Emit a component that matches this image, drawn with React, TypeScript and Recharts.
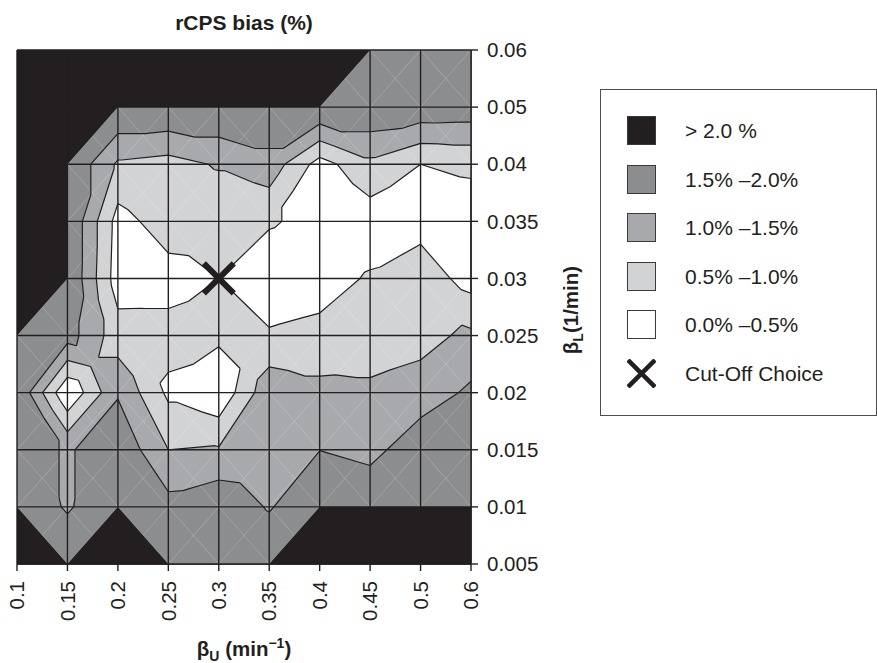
import React from 'react'
import { ScatterChart, Scatter, XAxis, YAxis, Legend } from 'recharts'

const font = '"Liberation Sans", Arial, Helvetica, sans-serif'
const ink = '#231f20'

// grid categories (the x axis has no 0.55 column)
const xLabels = ['0.1', '0.15', '0.2', '0.25', '0.3', '0.35', '0.4', '0.45', '0.5', '0.6']
const yLabels = ['0.005', '0.01', '0.015', '0.02', '0.025', '0.03', '0.035', '0.04', '0.05', '0.06']

// rCPS bias (%) per node, one row per beta_L from 0.06 (top) down to 0.005.
// 2.5 = anything above 2.0 %, the scale is cut at 2.0
const biasRows = [
  [2.5, 2.5, 2.5, 2.5, 2.5, 2.5, 2.5, 2.5, 1.8, 1.8], // 0.06
  [2.5, 2.5, 2.5, 2.5, 2.5, 2.5, 2.5, 1.97, 1.87, 1.83], // 0.05
  [2.5, 2.5, 0.92, 0.81, 1.05, 1.31, 0.3, 0.88, 0.5, 0.58], // 0.04
  [2.5, 2.5, 0.31, 0.75, 0.6, 0.55, 0.35, 0.22, 0.3, 0.26], // 0.035
  [2.5, 2.5, 0.25, 0.3, 0.5, 0.2, 0.3, 0.55, 0.8, 0.29], // 0.03
  [2.5, 1.73, 0.72, 0.68, 0.6, 0.55, 0.63, 0.72, 0.85, 1.1], // 0.025
  [1.98, 0.05, 1.45, 0.4, 0.09, 1.37, 1.15, 1.1, 1.2, 1.6], // 0.02
  [1.85, 1.43, 1.9, 1.0, 1.05, 1.4, 1.49, 1.31, 1.88, 1.9], // 0.015
  [2.5, 1.43, 2.5, 1.68, 1.9, 1.45, 2.5, 2.5, 2.5, 2.5], // 0.01
  [2.5, 2.5, 2.5, 2.5, 1.8, 2.5, 2.5, 2.5, 2.5, 2.5], // 0.005
]

const scaleMax = 2.0
const bandLevels = [0.5, 1.0, 1.5, 2.0]
const bandColors = ['#d1d3d4', '#a7a9ac', '#8c8d8f', ink]

const cutOff = { x: '0.3', y: '0.03' }

const legendItems = [
  { label: '> 2.0 %', color: ink },
  { label: '1.5% \u20132.0%', color: '#8c8d8f' },
  { label: '1.0% \u20131.5%', color: '#a7a9ac' },
  { label: '0.5% \u20131.0%', color: '#d1d3d4' },
  { label: '0.0% \u20130.5%', color: '#ffffff' },
]

type Node = { x: number; y: number; z: number }
type Pt = { x: number; y: number }
type Layer = { color: string; width?: number; closed: boolean; shapes: Pt[][] }

const nx = xLabels.length
const ny = yLabels.length
const zAt = (i: number, j: number) => Math.min(biasRows[ny - 1 - j][i], scaleMax)

// centre of each cell: mean of the two middle corner values
function centre(a: number, b: number, c: number, d: number) {
  const s = [a, b, c, d].sort((p, q) => p - q)
  return (s[1] + s[2]) / 2
}

const triangles: Node[][] = []
const diagonals: Pt[][] = []
for (let i = 0; i < nx - 1; i++) {
  for (let j = 0; j < ny - 1; j++) {
    const p00 = { x: i, y: j, z: zAt(i, j) }
    const p10 = { x: i + 1, y: j, z: zAt(i + 1, j) }
    const p11 = { x: i + 1, y: j + 1, z: zAt(i + 1, j + 1) }
    const p01 = { x: i, y: j + 1, z: zAt(i, j + 1) }
    const c = { x: i + 0.5, y: j + 0.5, z: centre(p00.z, p10.z, p11.z, p01.z) }
    triangles.push([p00, p10, c], [p10, p11, c], [p11, p01, c], [p01, p00, c])
    diagonals.push([p00, p11], [p10, p01])
  }
}

function clipAbove(tri: Node[], t: number): Pt[] {
  const out: Pt[] = []
  tri.forEach((a, k) => {
    const b = tri[(k + 1) % tri.length]
    const ain = a.z >= t
    if (ain) out.push({ x: a.x, y: a.y })
    if (ain !== b.z >= t) {
      const f = (t - a.z) / (b.z - a.z)
      out.push({ x: a.x + f * (b.x - a.x), y: a.y + f * (b.y - a.y) })
    }
  })
  return out
}

function area(p: Pt[]) {
  let s = 0
  p.forEach((a, k) => {
    const b = p[(k + 1) % p.length]
    s += a.x * b.y - b.x * a.y
  })
  return s / 2
}

function crossing(tri: Node[], t: number): Pt[] | null {
  const pts: Pt[] = []
  tri.forEach((a, k) => {
    const b = tri[(k + 1) % 3]
    if ((a.z >= t) !== (b.z >= t)) {
      const f = (t - a.z) / (b.z - a.z)
      pts.push({ x: a.x + f * (b.x - a.x), y: a.y + f * (b.y - a.y) })
    }
  })
  if (pts.length !== 2) return null
  if (Math.abs(pts[0].x - pts[1].x) + Math.abs(pts[0].y - pts[1].y) < 1e-6) return null
  return pts
}

const fillLayer = (level: number, color: string): Layer => ({
  color,
  closed: true,
  shapes: triangles.map((t) => clipAbove(t, level)).filter((p) => p.length >= 3 && Math.abs(area(p)) > 1e-9),
})

const contourSegs: Pt[][] = []
bandLevels.slice(0, 3).forEach((lv) => {
  triangles.forEach((t) => {
    const s = crossing(t, lv)
    if (s) contourSegs.push(s)
  })
})

const gridLines: Pt[][] = []
for (let i = 0; i < nx; i++) gridLines.push([{ x: i, y: 0 }, { x: i, y: ny - 1 }])
for (let j = 0; j < ny; j++) gridLines.push([{ x: 0, y: j }, { x: nx - 1, y: j }])

const layers: Layer[] = [
  fillLayer(bandLevels[0], bandColors[0]),
  fillLayer(bandLevels[1], bandColors[1]),
  fillLayer(bandLevels[2], bandColors[2]),
  { color: 'rgba(255,255,255,0.28)', width: 0.7, closed: false, shapes: diagonals },
  fillLayer(bandLevels[3], bandColors[3]),
  { color: ink, width: 1.2, closed: false, shapes: contourSegs },
  { color: ink, width: 1.4, closed: false, shapes: gridLines },
]

const meshPoints = layers.flatMap((l) => l.shapes.flat())
const cutOffPoints = [{ x: xLabels.indexOf(cutOff.x), y: yLabels.indexOf(cutOff.y) }]

// receives the scaled points of meshPoints, in order, from the Scatter line
function MeshPaths(props: any) {
  const pts: Pt[] = props.points ?? []
  let k = 0
  return (
    <g>
      {layers.map((layer, li) => {
        let d = ''
        layer.shapes.forEach((shape) => {
          shape.forEach((_, idx) => {
            const p = pts[k++]
            if (!p) return
            d += `${idx === 0 ? 'M' : 'L'}${p.x.toFixed(2)},${p.y.toFixed(2)}`
          })
          if (layer.closed) d += 'Z'
        })
        return (
          <path
            key={li}
            d={d}
            fill={layer.closed ? layer.color : 'none'}
            stroke={layer.closed ? 'none' : layer.color}
            strokeWidth={layer.width}
          />
        )
      })}
    </g>
  )
}

function CutOffMark(props: any) {
  const { cx, cy } = props
  const r = 15
  return (
    <g stroke={ink} strokeWidth={6}>
      <line x1={cx - r} y1={cy - r} x2={cx + r} y2={cy + r} />
      <line x1={cx - r} y1={cy + r} x2={cx + r} y2={cy - r} />
    </g>
  )
}

function XTick(props: any) {
  const { x, y, payload } = props
  const ty = y + 8
  return (
    <text
      x={x}
      y={ty}
      transform={`rotate(-90, ${x}, ${ty})`}
      textAnchor="end"
      dy="0.35em"
      fill={ink}
      fontSize={20.5}
      fontFamily={font}
    >
      {xLabels[payload.value]}
    </text>
  )
}

function XTitle(props: any) {
  const vb = props.viewBox
  const cx = vb.x + vb.width / 2
  const cy = vb.y + 92
  return (
    <text x={cx} y={cy} textAnchor="middle" fill={ink} fontSize={20.5} fontWeight="bold" fontFamily={font}>
      β<tspan dy={5} fontSize={14}>U</tspan>
      <tspan dy={-5}> (min</tspan>
      <tspan dy={-8} fontSize={14}>−1</tspan>
      <tspan dy={8}>)</tspan>
    </text>
  )
}

function YTitle(props: any) {
  const vb = props.viewBox
  const cx = vb.x + 107
  const cy = vb.y + vb.height / 2 + 3
  return (
    <text
      x={cx}
      y={cy}
      transform={`rotate(-90, ${cx}, ${cy})`}
      textAnchor="middle"
      fill={ink}
      fontSize={20.5}
      fontWeight="bold"
      fontFamily={font}
    >
      β<tspan dy={5} fontSize={14}>L</tspan>
      <tspan dy={-5}>(1/min)</tspan>
    </text>
  )
}

function LegendBox() {
  return (
    <div
      style={{
        position: 'relative',
        width: 277,
        height: 327,
        boxSizing: 'border-box',
        border: '1.5px solid #4d4d4d',
        background: '#fff',
        fontFamily: font,
        fontSize: 21,
        color: ink,
      }}
    >
      {legendItems.map((it, i) => (
        <div key={it.label} style={{ position: 'absolute', left: 26, top: 26 + i * 48.5, display: 'flex', alignItems: 'center' }}>
          <div style={{ width: 29, height: 29, background: it.color, border: '1px solid #3a3a3a', boxSizing: 'border-box' }} />
          <span style={{ marginLeft: 29, lineHeight: '29px' }}>{it.label}</span>
        </div>
      ))}
      <div style={{ position: 'absolute', left: 26, top: 26 + 5 * 48.5, display: 'flex', alignItems: 'center' }}>
        <svg width={29} height={29}>
          <g stroke={ink} strokeWidth={4.5}>
            <line x1={1} y1={1} x2={28} y2={28} />
            <line x1={1} y1={28} x2={28} y2={1} />
          </g>
        </svg>
        <span style={{ marginLeft: 29, lineHeight: '29px' }}>Cut-Off Choice</span>
      </div>
    </div>
  )
}

export default function App() {
  return (
    <div style={{ position: 'absolute', left: 0, top: 0, width: 877, height: 663, background: '#fff' }}>
      <div
        style={{
          position: 'absolute',
          left: 0,
          width: 488,
          top: 12,
          textAlign: 'center',
          fontFamily: font,
          fontWeight: 'bold',
          fontSize: 21,
          lineHeight: '21px',
          color: ink,
          zIndex: 2,
        }}
      >
        rCPS bias (%)
      </div>
      <ScatterChart width={877} height={663} margin={{ top: 50, right: 306, bottom: 39, left: 17 }}>
        <XAxis
          type="number"
          dataKey="x"
          domain={[0, nx - 1]}
          ticks={xLabels.map((_, i) => i)}
          interval={0}
          height={60}
          tickSize={7}
          axisLine={{ stroke: ink, strokeWidth: 1.4 }}
          tickLine={{ stroke: ink, strokeWidth: 1.4 }}
          tick={<XTick />}
          label={(p: any) => <XTitle {...p} />}
        />
        <YAxis
          type="number"
          dataKey="y"
          orientation="right"
          domain={[0, ny - 1]}
          ticks={yLabels.map((_, j) => j)}
          interval={0}
          width={100}
          tickSize={7}
          tickMargin={9}
          axisLine={{ stroke: ink, strokeWidth: 1.4 }}
          tickLine={{ stroke: ink, strokeWidth: 1.4 }}
          tick={{ fill: ink, fontSize: 20.5, fontFamily: font }}
          tickFormatter={(v: number) => yLabels[v]}
          label={(p: any) => <YTitle {...p} />}
        />
        <Legend
          layout="vertical"
          align="center"
          verticalAlign="middle"
          content={() => <LegendBox />}
          wrapperStyle={{ left: 600, top: 89, width: 277, height: 327 }}
        />
        <Scatter
          data={meshPoints}
          line={<MeshPaths />}
          lineType="joint"
          shape={() => <g />}
          fill="none"
          legendType="none"
          isAnimationActive={false}
        />
        <Scatter
          data={cutOffPoints}
          shape={(p: any) => <CutOffMark {...p} />}
          legendType="none"
          isAnimationActive={false}
        />
      </ScatterChart>
    </div>
  )
}
